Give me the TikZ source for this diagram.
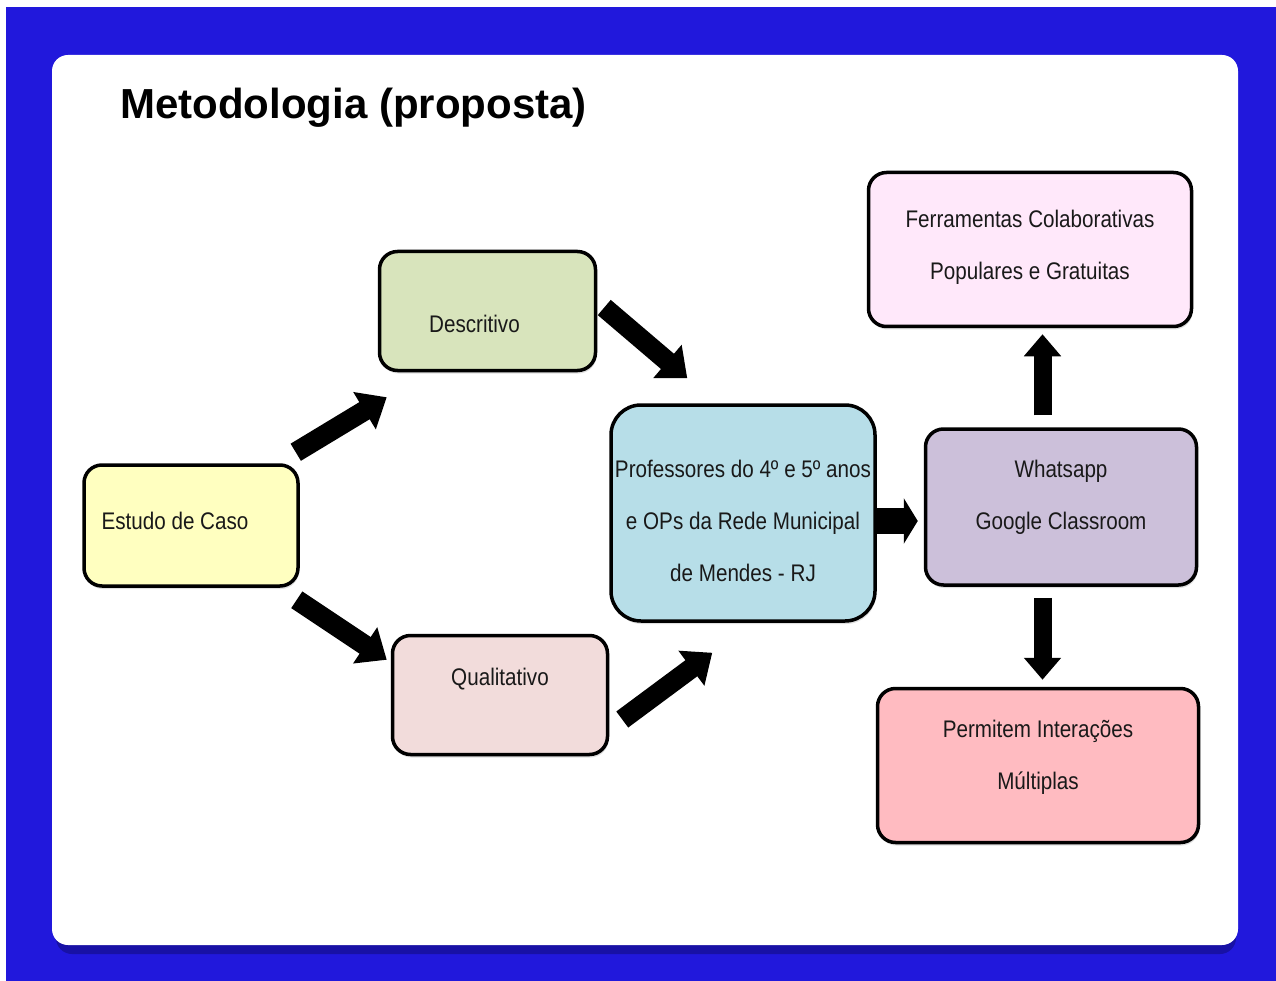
\documentclass[tikz,border=0pt]{standalone}
\usepackage{fontspec}
\setmainfont{Liberation Sans}
\newfontfamily\narrowfont{Liberation Sans}[FakeStretch=0.86]
\usetikzlibrary{positioning, arrows.meta, shadows}

\definecolor{slideblue}{RGB}{33,24,220}
\definecolor{slideshade}{RGB}{24,17,165}
\definecolor{caseyellow}{RGB}{255,255,192}
\definecolor{descgreen}{RGB}{216,228,188}
\definecolor{qualrose}{RGB}{242,220,219}
\definecolor{profblue}{RGB}{183,222,232}
\definecolor{toollilac}{RGB}{204,192,218}
\definecolor{freepink}{RGB}{255,232,250}
\definecolor{multired}{RGB}{255,187,193}

\begin{document}
\begin{tikzpicture}[
        x=1pt, y=-1pt,
        box/.style={rectangle, rounded corners=18pt, draw=black, line width=3.5pt, text=black!90,
            font=\narrowfont\fontsize{24}{52}\selectfont, align=center,
            drop shadow={opacity=0.25, shadow xshift=1pt, shadow yshift=-3pt}},
        title/.style={font=\bfseries\fontsize{42}{50}\selectfont, inner sep=0pt},
        bigarrow/.style={line width=20pt, -{Triangle[width=42pt, length=26pt]}},
        uparrow/.style={line width=18pt, -{Triangle[width=36pt, length=22pt]}}
    ]
    \useasboundingbox (0,0) rectangle (1276,981);

    % Slide
    \fill[slideblue] (6,7) rectangle (1276,981);
    \fill[slideshade, rounded corners=16pt] (56,62) rectangle (1236,954);
    \fill[white, rounded corners=16pt] (52,55) rectangle (1238,945);

    \node[title, anchor=base west] (title) at (120,119) {Metodologia (proposta)};

    % Left part
    \node[box, fill=caseyellow, minimum width=214pt, minimum height=121pt, text height=17.5pt, text depth=9.5pt] (estudo) at (191,525.5)
        {Estudo de Caso\hspace*{32pt}};
    \node[box, fill=descgreen, minimum width=216pt, minimum height=119pt, text height=44pt, text depth=0pt, above right=91pt and 78pt of estudo] (descr)
        {Descritivo\hspace*{26pt}};
    \node[box, fill=qualrose, minimum width=215pt, minimum height=119pt, text depth=36pt, below right=46pt and 91pt of estudo] (qual) {Qualitativo};

    % Middle
    \node[box, fill=profblue, rounded corners=30pt, minimum width=264pt, minimum height=216pt, text height=137pt, text depth=0pt, below right=31pt and 12pt of descr] (prof)
        {Professores do 4º e 5º anos\\ e OPs da Rede Municipal\\ de Mendes - RJ};

    % Right part
    \node[box, fill=toollilac, minimum width=271pt, minimum height=156pt, text height=69.5pt, text depth=24.5pt, right=47pt of prof, yshift=6pt] (whats)
        {Whatsapp\\ Google Classroom};
    \node[box, fill=freepink, minimum width=323pt, minimum height=154pt, text height=69.5pt, text depth=8.5pt, above=99pt of whats, xshift=-31pt] (ferr)
        {Ferramentas Colaborativas\\ Populares e Gratuitas};
    \node[box, fill=multired, minimum width=321pt, minimum height=154pt, text height=69.5pt, text depth=22.5pt, below=100pt of whats, xshift=-23pt] (perm)
        {Permitem Interações\\ Múltiplas};

    % Arrows
    \draw[bigarrow] ([shift={(-4,-11)}]estudo.north east) -- ([shift={(9,25)}]descr.south west);
    \draw[bigarrow] ([shift={(-3,12)}]estudo.south east) -- ([shift={(-4,26)}]qual.north west);
    \draw[bigarrow] ([shift={(7,-3.5)}]descr.east) -- ([shift={(78,-25)}]prof.north west);
    \draw[bigarrow] ([shift={(13,24.5)}]qual.east) -- ([shift={(103,30)}]prof.south west);
    \draw[line width=26pt, -{Triangle[width=45pt, length=14pt]}] ([shift={(0,8)}]prof.east) -- ([shift={(-6,14)}]whats.west);
    \draw[uparrow] ([shift={(-18.5,-12)}]whats.north) -- ([shift={(12.5,6)}]ferr.south);
    \draw[uparrow] ([shift={(-18.5,11)}]whats.south) -- ([shift={(4.5,-7)}]perm.north);

\end{tikzpicture}
\end{document}
